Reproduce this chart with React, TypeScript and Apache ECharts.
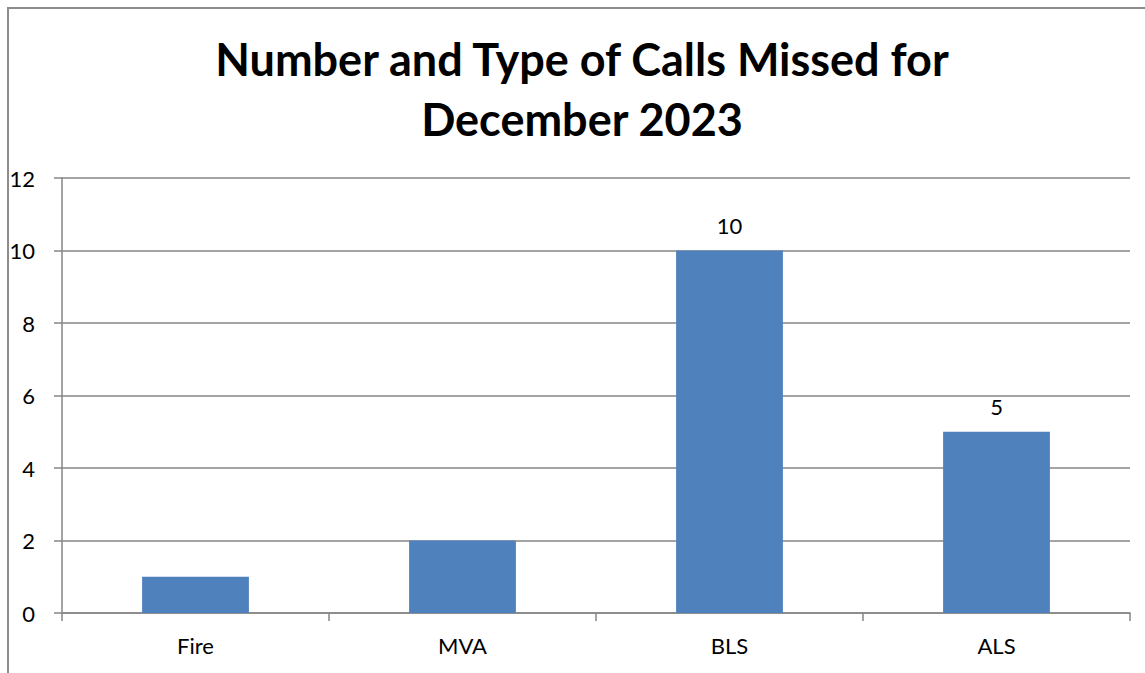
import React, { useEffect, useRef } from "react";
import * as echarts from "echarts";

const categories = ["Fire", "MVA", "BLS", "ALS"];
const values = [1, 2, 10, 5];
const labeledCategories = ["BLS", "ALS"];
const yTicks = { min: 0, max: 12, interval: 2 };
const titleText = "Number and Type of Calls Missed for\nDecember 2023";

export default function App() {
  const ref = useRef<HTMLDivElement>(null);
  useEffect(() => {
    if (!ref.current) return;
    const chart = echarts.init(ref.current, null, { renderer: "svg" });
    const font = "Lato, 'Open Sans', sans-serif";
    chart.setOption({
      animation: false,
      backgroundColor: "#ffffff",
      textStyle: { fontFamily: font },
      title: {
        text: titleText,
        left: 582,
        top: 29,
        padding: 0,
        textAlign: "center",
        textStyle: {
          fontFamily: font,
          fontSize: 45,
          fontWeight: "bold",
          color: "#000000",
          lineHeight: 60,
        },
      },
      graphic: [
        {
          type: "polyline",
          shape: { points: [[8, 700], [8, 8], [1160, 8]] },
          style: { stroke: "#8c8c8c", lineWidth: 2, fill: "none" },
          silent: true,
        },
      ],
      grid: { left: 62, right: 15, top: 178, bottom: 60, containLabel: false },
      xAxis: {
        type: "category",
        data: categories,
        boundaryGap: true,
        axisLine: { show: true, lineStyle: { color: "#868686", width: 1.5 } },
        axisTick: { show: true, alignWithLabel: false, length: 8, lineStyle: { color: "#868686", width: 1.5 } },
        axisLabel: { color: "#000000", fontSize: 22, margin: 21, fontFamily: font },
        splitLine: { show: false },
      },
      yAxis: {
        type: "value",
        min: yTicks.min,
        max: yTicks.max,
        interval: yTicks.interval,
        axisLine: { show: true, lineStyle: { color: "#868686", width: 1.5 } },
        axisTick: { show: true, length: 8, lineStyle: { color: "#868686", width: 1.5 } },
        axisLabel: { color: "#000000", fontSize: 22, margin: 27, fontFamily: font },
        splitLine: { show: true, lineStyle: { color: "#868686", width: 1.5 } },
      },
      series: [
        {
          type: "bar",
          barWidth: "40%",
          data: categories.map((c, i) => ({
            value: values[i],
            label: { show: labeledCategories.includes(c) },
          })),
          itemStyle: { color: "#4F81BD" },
          label: {
            position: "top",
            distance: 14,
            color: "#000000",
            fontSize: 22,
            fontFamily: font,
          },
        },
      ],
    });
    return () => chart.dispose();
  }, []);
  return (
    <div
      ref={ref}
      style={{ position: "fixed", left: 0, top: 0, width: 1145, height: 673 }}
    />
  );
}
